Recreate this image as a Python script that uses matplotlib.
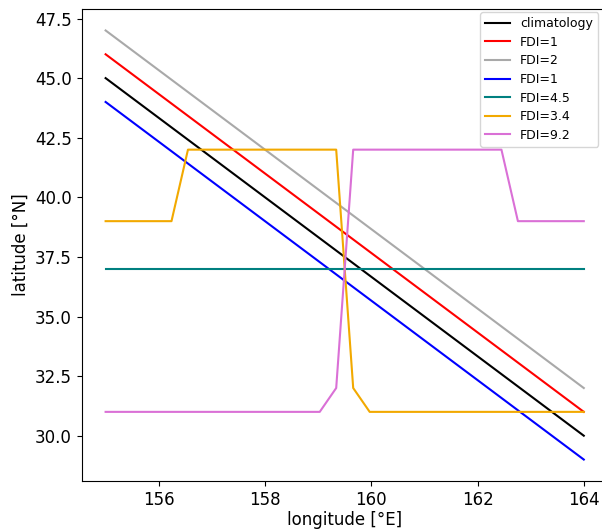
import matplotlib
matplotlib.use("Agg")
import matplotlib.pyplot as plt

# diagonal tracks: endpoints (lon, lat)
lon_ends = [155, 164]
lat_clim = [45, 30]
lat_fdi1_red = [46, 31]
lat_fdi2 = [47, 32]
lat_fdi1_blue = [44, 29]
lat_fdi45 = [37, 37]

# step-like tracks
lon_fdi34 = [155, 156.24, 156.55, 159.34, 159.66, 159.97, 164]
lat_fdi34 = [39, 39, 42, 42, 32, 31, 31]
lon_fdi92 = [155, 159.03, 159.34, 159.66, 162.45, 162.76, 164]
lat_fdi92 = [31, 31, 32, 42, 42, 39, 39]

fig = plt.figure(figsize=(6.02, 5.3), dpi=100)
ax = fig.add_axes([81.7 / 602, 49 / 530, 526 / 602, 472 / 530])

ax.plot(lon_ends, lat_clim, color='black', label='climatology')
ax.plot(lon_ends, lat_fdi1_red, color='red', label='FDI=1')
ax.plot(lon_ends, lat_fdi2, color='darkgray', label='FDI=2')
ax.plot(lon_ends, lat_fdi1_blue, color='blue', label='FDI=1')
ax.plot(lon_ends, lat_fdi45, color='teal', label='FDI=4.5')
ax.plot(lon_fdi34, lat_fdi34, color='#f2a900', label='FDI=3.4')
ax.plot(lon_fdi92, lat_fdi92, color='orchid', label='FDI=9.2')

ax.set_xticks([156, 158, 160, 162, 164])
ax.tick_params(labelsize=12)
ax.set_xlabel('longitude [°E]', fontsize=12, labelpad=1.5)
ax.set_ylabel('latitude [°N]', fontsize=12)
ax.legend(fontsize=9, loc='upper right', bbox_to_anchor=(598 / 602, 1 - 12 / 530),
          bbox_transform=fig.transFigure, borderaxespad=0, labelspacing=0.45)

fig.savefig('out.png', dpi=100)
